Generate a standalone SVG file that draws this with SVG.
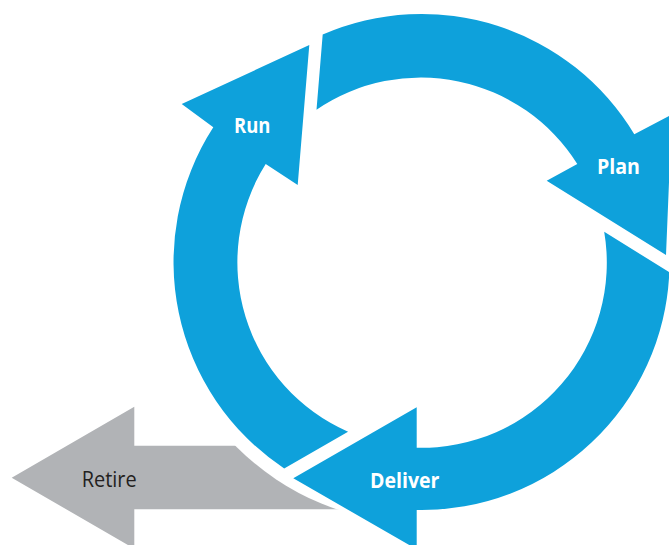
<svg xmlns="http://www.w3.org/2000/svg" width="669" height="545" viewBox="0 0 669 545">
  <style>
    .cycle { fill: #0EA1DB; }
    .retire { fill: #B1B3B6; }
    .label { font-family: "Open Sans", "Liberation Sans", sans-serif; font-size: 22px; }
    .label-on-blue { fill: #FFFFFF; font-weight: 700; }
    .label-on-grey { fill: #231F20; font-weight: 400; }
  </style>
  <defs>
    <!-- keeps a white margin between the grey arrow and the outside of the cycle -->
    <mask id="behind-cycle" maskUnits="userSpaceOnUse" x="0" y="0" width="669" height="545">
      <rect x="0" y="0" width="669" height="545" fill="#FFFFFF"/>
      <circle cx="421.5" cy="262" r="261.5" fill="#000000"/>
    </mask>
  </defs>

  <rect x="0" y="0" width="669" height="545" fill="#FFFFFF"/>

  <!-- grey arrow leaving the cycle -->
  <g id="retire">
    <path class="retire" mask="url(#behind-cycle)" d="M11.7,477.7 L134.3,406.7 L134.3,445.7 L400,445.7 L400,509.3 L134.3,509.3 L134.3,548.7 Z"/>
    <text class="label label-on-grey" x="81.7" y="486.5" textLength="55" lengthAdjust="spacingAndGlyphs">Retire</text>
  </g>

  <!-- cycle segments: centre (421.5,262), inner radius 185, outer radius 248 -->
  <g id="run">
    <path class="cycle" d="M284.2,468.5 A248,248 0 0 1 213.3,127.3 L181.7,104 L309.3,45 L297.7,185 L265.7,164 A185,185 0 0 0 348.05,431.8 Z"/>
    <text class="label label-on-blue" x="234" y="132.8" textLength="36.5" lengthAdjust="spacingAndGlyphs">Run</text>
  </g>

  <g id="plan">
    <path class="cycle" d="M322.7,34.6 A248,248 0 0 1 634.3,134.3 L671.8,114.5 L666,255 L546.7,180.7 L577.3,164 A185,185 0 0 0 316.5,109.7 Z"/>
    <text class="label label-on-blue" x="597" y="174.2" textLength="43" lengthAdjust="spacingAndGlyphs">Plan</text>
  </g>

  <g id="deliver">
    <path class="cycle" d="M669.3,272.2 A248,248 0 0 1 416.7,510 L416.7,549.3 L293.3,478.3 L416.7,407.3 L416.7,447.7 A185,185 0 0 0 604.2,231.8 Z"/>
    <text class="label label-on-blue" x="370" y="487.8" textLength="69.5" lengthAdjust="spacingAndGlyphs">Deliver</text>
  </g>
</svg>
